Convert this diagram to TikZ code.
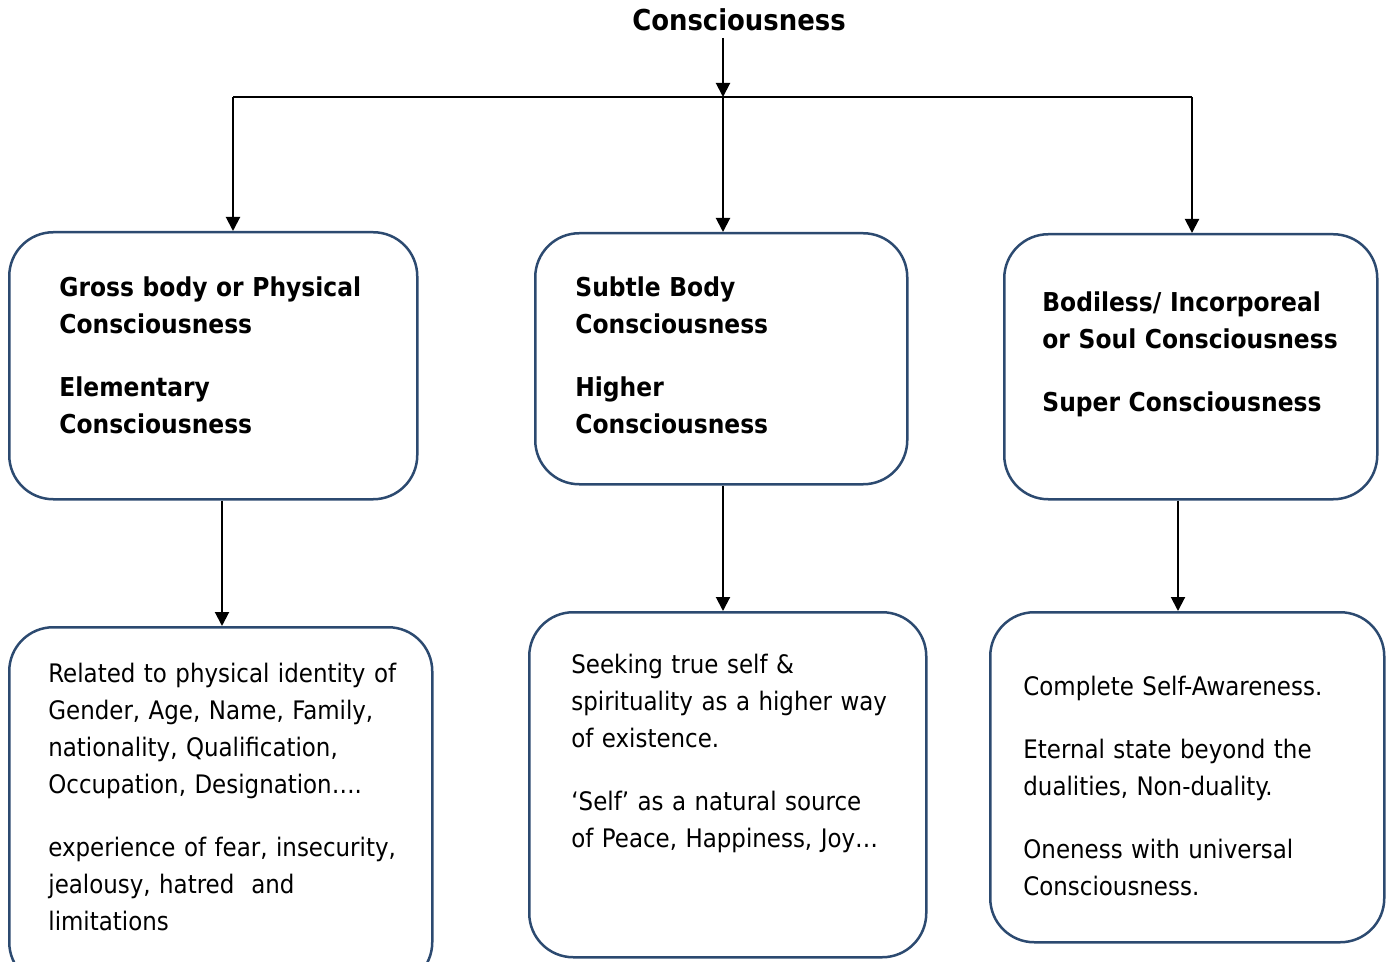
\documentclass[tikz,border=0pt]{standalone}
\usepackage{fontspec}
\setmainfont{DejaVu Sans Condensed}
\usetikzlibrary{arrows.meta}
\definecolor{boxline}{RGB}{44,74,112}
\begin{document}
\begin{tikzpicture}[x=0.5pt,y=-0.5pt,
  card/.style={draw=boxline,line width=1.25pt,rounded corners=22pt,anchor=north west,inner sep=0pt},
  wire/.style={draw=black,line width=1pt},
  link/.style={wire,-{Triangle[length=7pt,width=7pt]}},
  head/.style={anchor=base west,align=left,inner sep=0pt,text width=205pt,
    font=\fontsize{13}{18.5}\selectfont\bfseries},
  body/.style={anchor=base west,align=left,inner sep=0pt,text width=205pt,
    font=\fontsize{12.75}{18.5}\selectfont}]
\useasboundingbox (0,0) rectangle (1392,962);

% title
\node[font=\fontsize{14.4}{16}\selectfont\bfseries,anchor=base,inner sep=0pt] (t) at (739,31) {Consciousness};

% upper row of boxes
\node[card,minimum width=204pt,minimum height=133.5pt] (g) at (8,231) {};
\node[card,minimum width=186pt,minimum height=125.5pt] (s) at (534,232) {};
\node[card,minimum width=186.5pt,minimum height=132.5pt] (b) at (1003,233) {};

% lower row of boxes
\node[card,minimum width=211.5pt,minimum height=179.5pt] (gd) at (8,626) {};
\node[card,minimum width=198.5pt,minimum height=172.5pt] (sd) at (528,611) {};
\node[card,minimum width=197pt,minimum height=165pt] (bd) at (989,611) {};

% box texts
\node[head] (gt) at (59,297) {Gross body or Physical\\Consciousness\\[13pt]Elementary\\Consciousness};
\node[head] (st) at (575,297) {Subtle Body\\Consciousness\\[13pt]Higher\\Consciousness};
\node[head] (bt) at (1042,312) {Bodiless/ Incorporeal\\or Soul Consciousness\\[13pt]Super Consciousness};

\node[body,text width=210pt] (gdt) at (48,682) {Related to physical identity of\\Gender, Age, Name, Family,\\nationality, Qualification,\\Occupation, Designation\dots.\\[13pt]experience of fear, insecurity,\\jealousy, hatred\ \ and\\limitations};
\node[body] (sdt) at (571,673) {Seeking true self \&\\spirituality as a higher way\\of existence.\\[13pt]‘Self’ as a natural source\\of Peace, Happiness, Joy\dots};
\node[body] (bdt) at (1023,695) {Complete Self-Awareness.\\[13pt]Eternal state beyond the\\dualities, Non-duality.\\[13pt]Oneness with universal\\Consciousness.};

% connectors
\coordinate (top) at (723,38);
\coordinate (jm) at (723,97);
\coordinate (jl) at (233,97);
\coordinate (jr) at (1192,97);
\coordinate (c1) at (222,0);
\coordinate (c3) at (1178,0);

\draw[wire] (jl) -- (jr);
\draw[link] (top) -- (jm);
\draw[link] (jl) -- (jl |- g.north);
\draw[link] (jm) -- (jm |- s.north);
\draw[link] (jr) -- (jr |- b.north);

\draw[link] (c1 |- g.south) -- (c1 |- gd.north);
\draw[link] (jm |- s.south) -- (jm |- sd.north);
\draw[link] (c3 |- b.south) -- (c3 |- bd.north);
\end{tikzpicture}
\end{document}
